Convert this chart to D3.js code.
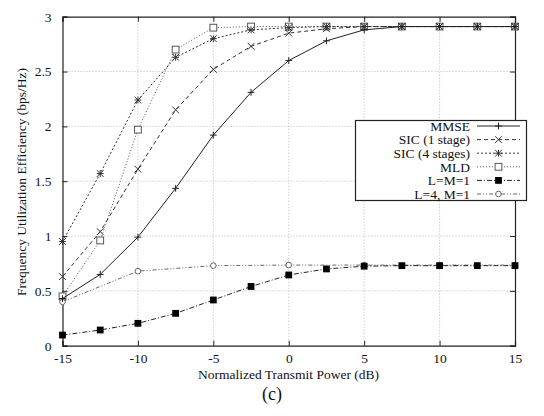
<!DOCTYPE html>
<html><head><meta charset="utf-8">
<script src="https://cdn.jsdelivr.net/npm/d3@7"></script>
<style>body{margin:0;background:#fff}svg{display:block}</style>
</head><body><svg id="c" width="544" height="416"></svg>
<script>
const xs = [-15,-12.5,-10,-7.5,-5,-2.5,0,2.5,5,7.5,10,12.5,15];
const xs5 = [-15,-10,-5,0,5,10,15];
const mmse = [0.43,0.65,0.99,1.435,1.92,2.31,2.60,2.78,2.88,2.91,2.91,2.91,2.91];
const sic1 = [0.63,1.04,1.61,2.15,2.52,2.73,2.85,2.89,2.91,2.91,2.91,2.91,2.91];
const sic4 = [0.95,1.57,2.24,2.63,2.80,2.88,2.90,2.91,2.91,2.91,2.91,2.91,2.91];
const mld  = [0.45,0.96,1.97,2.70,2.90,2.91,2.91,2.91,2.91,2.91,2.91,2.91,2.91];
const lm1  = [0.097,0.143,0.204,0.295,0.417,0.54,0.645,0.70,0.725,0.73,0.73,0.73,0.73];
const l4m1 = [0.40,0.68,0.73,0.735,0.735,0.735,0.735];
const xTicks = [-15,-10,-5,0,5,10,15];
const yTicks = [0,0.5,1,1.5,2,2.5,3];
const names = ["MMSE","SIC (1 stage)","SIC (4 stages)","MLD","L=M=1","L=4, M=1"];

const series = [
  {name:names[0], x:xs, y:mmse, dash:null, marker:"plus", color:"#222"},
  {name:names[1], x:xs, y:sic1, dash:"4,3", marker:"cross", color:"#333"},
  {name:names[2], x:xs, y:sic4, dash:"2,2", marker:"star", color:"#333"},
  {name:names[3], x:xs, y:mld, dash:"1,2", marker:"square", color:"#555"},
  {name:names[4], x:xs, y:lm1, dash:"5,2,1,2", marker:"fsquare", color:"#222"},
  {name:names[5], x:xs5, y:l4m1, dash:"4,2,1,2,1,2", marker:"circle", color:"#666"}
];

const svg = d3.select("#c");
const font = "Liberation Serif, Times New Roman, serif";
const fs = 13.5;
const x = d3.scaleLinear().domain([-15,15]).range([62.5,515]);
const y = d3.scaleLinear().domain([0,3]).range([345.7,16.7]);

// grid
const g = svg.append("g");
g.selectAll(".vg").data(xTicks.slice(1,-1)).join("line")
  .attr("x1",d=>x(d)).attr("x2",d=>x(d)).attr("y1",y(0)).attr("y2",y(3))
  .attr("stroke","#aaa").attr("stroke-width",0.8).attr("stroke-dasharray","1,2");
g.selectAll(".hg").data(yTicks.slice(1,-1)).join("line")
  .attr("y1",d=>y(d)).attr("y2",d=>y(d)).attr("x1",x(-15)).attr("x2",x(15))
  .attr("stroke","#aaa").attr("stroke-width",0.8).attr("stroke-dasharray","1,2");

// axes
const ax = d3.axisBottom(x).tickValues(xTicks).tickSize(-5).tickPadding(8).tickFormat(d=>String(d));
const axT = d3.axisTop(x).tickValues(xTicks).tickSize(-5).tickFormat("");
const ay = d3.axisLeft(y).tickValues(yTicks).tickSize(-5).tickPadding(11).tickFormat(d=>String(d));
const ayR = d3.axisRight(y).tickValues(yTicks).tickSize(-5).tickFormat("");
function style(sel){
  sel.attr("font-family",font).attr("font-size",fs);
  sel.select(".domain").attr("stroke","#222").attr("stroke-width",1.2);
  sel.selectAll(".tick line").attr("stroke","#222");
  sel.selectAll("text").attr("font-family",font).attr("font-size",fs).attr("fill","#111");
}
svg.append("g").attr("transform",`translate(0,${y(0)})`).call(ax).call(style);
svg.append("g").attr("transform",`translate(0,${y(3)})`).call(axT).call(style);
svg.append("g").attr("transform",`translate(${x(-15)},0)`).call(ay).call(style);
svg.append("g").attr("transform",`translate(${x(15)},0)`).call(ayR).call(style);

function marker(sel, type, cx, cy, color){
  const s=3.4;
  if(type==="plus"){
    sel.append("path").attr("d",`M${cx-s},${cy}H${cx+s}M${cx},${cy-s}V${cy+s}`).attr("stroke",color).attr("stroke-width",1);
  } else if(type==="cross"){
    sel.append("path").attr("d",`M${cx-s},${cy-s}L${cx+s},${cy+s}M${cx-s},${cy+s}L${cx+s},${cy-s}`).attr("stroke",color).attr("stroke-width",1);
  } else if(type==="star"){
    sel.append("path").attr("d",`M${cx-s},${cy-s}L${cx+s},${cy+s}M${cx-s},${cy+s}L${cx+s},${cy-s}M${cx},${cy-s}V${cy+s}M${cx-s},${cy}H${cx+s}`).attr("stroke",color).attr("stroke-width",1);
  } else if(type==="square"){
    sel.append("rect").attr("x",cx-s).attr("y",cy-s).attr("width",2*s).attr("height",2*s).attr("fill","#fff").attr("stroke",color).attr("stroke-width",1);
  } else if(type==="fsquare"){
    sel.append("rect").attr("x",cx-s).attr("y",cy-s).attr("width",2*s).attr("height",2*s).attr("fill","#000");
  } else if(type==="circle"){
    sel.append("circle").attr("cx",cx).attr("cy",cy).attr("r",2.8).attr("fill","#fff").attr("stroke",color).attr("stroke-width",1);
  }
}

const line = d3.line().x(d=>x(d[0])).y(d=>y(d[1]));
series.slice().reverse().forEach(s=>{
  const pts = s.x.map((v,i)=>[v,s.y[i]]);
  const gg = svg.append("g");
  gg.append("path").datum(pts).attr("d",line).attr("fill","none")
    .attr("stroke",s.color).attr("stroke-width",1).attr("stroke-dasharray",s.dash);
  pts.forEach(p=>marker(gg,s.marker,x(p[0]),y(p[1]),s.color));
});

// legend
const lg = svg.append("g");
lg.append("rect").attr("x",355.5).attr("y",120.5).attr("width",171).attr("height",80)
  .attr("fill","#fff").attr("stroke","#222").attr("stroke-width",1.2);
const ly0 = 126, ldy = 13.6;
series.forEach((s,i)=>{
  const yy = ly0 + i*ldy;
  lg.append("text").attr("x",470).attr("y",yy).attr("dy","0.35em").attr("text-anchor","end")
    .attr("font-family",font).attr("font-size",fs).attr("fill","#111").text(s.name);
  lg.append("line").attr("x1",477).attr("x2",520).attr("y1",yy).attr("y2",yy)
    .attr("stroke",s.color).attr("stroke-width",1).attr("stroke-dasharray",s.dash);
  marker(lg,s.marker,498.5,yy,s.color);
});

// axis titles
svg.append("text").attr("x",288.5).attr("y",374).attr("dy","0.35em").attr("text-anchor","middle")
  .attr("font-family",font).attr("font-size",fs).attr("fill","#111").text("Normalized Transmit Power (dB)");
svg.append("text").attr("transform","translate(21,182) rotate(-90)").attr("dy","0.35em").attr("text-anchor","middle")
  .attr("font-family",font).attr("font-size",fs).attr("fill","#111").text("Frequency Utilization Efficiency (bps/Hz)");
svg.append("text").attr("x",272).attr("y",394).attr("dy","0.35em").attr("text-anchor","middle")
  .attr("font-family",font).attr("font-size",18).attr("fill","#111").text("(c)");
</script></body></html>
